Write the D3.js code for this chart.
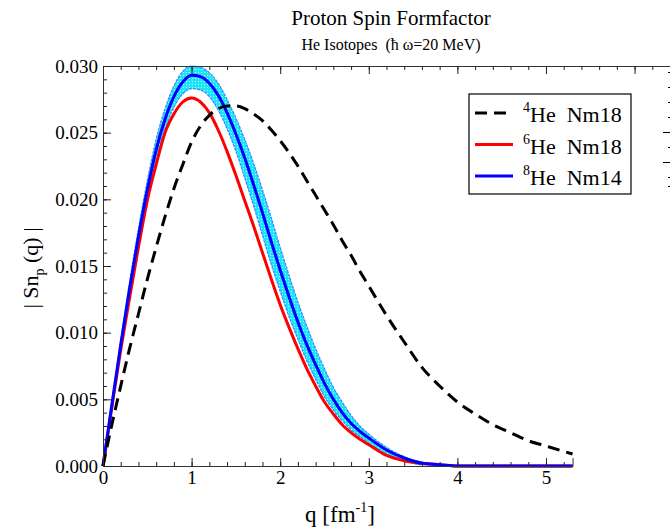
<!DOCTYPE html>
<html>
<head>
<meta charset="utf-8">
<script src="https://cdn.jsdelivr.net/npm/d3@7"></script>
<style>
body { margin: 0; background: #fff; }
svg { font-family: "Liberation Serif", "DejaVu Serif", serif; }
text { white-space: pre; }
</style>
</head>
<body>
<svg id="chart" width="670" height="529"></svg>
<script>
// q grid shared by all curves [fm^-1]
const qValues = [0, 0.1, 0.2, 0.3, 0.4, 0.5, 0.6, 0.7, 0.8, 0.9,
    1.0, 1.1, 1.2, 1.3, 1.4, 1.5, 1.6, 1.7, 1.8, 1.9,
    2.0, 2.1, 2.2, 2.3, 2.4, 2.5, 2.6, 2.7, 2.8, 2.9,
    3.0, 3.2, 3.4, 3.6, 3.8, 4.0, 4.2, 4.4, 4.6, 4.8, 5.0, 5.2, 5.3];

// 4He Nm18 (dashed black)
const he4 = [0, 0.0031, 0.0060, 0.0088, 0.0114, 0.0140, 0.0164, 0.0187, 0.0208, 0.0226,
    0.0243, 0.0255, 0.0263, 0.0268, 0.0270, 0.0270, 0.0268, 0.0264, 0.0259, 0.0252,
    0.0244, 0.0235, 0.0225, 0.0214, 0.0203, 0.0192, 0.0181, 0.0169, 0.0158, 0.0146,
    0.0135, 0.0113, 0.0093, 0.0074, 0.0060, 0.0048, 0.0039, 0.0031, 0.0025, 0.0019, 0.0015, 0.0011, 0.0009];

// 6He Nm18 (red)
const he6 = [0, 0.0044, 0.0087, 0.0126, 0.0164, 0.0199, 0.0226, 0.0250, 0.0264, 0.0273,
    0.0276, 0.0273, 0.0265, 0.0252, 0.0236, 0.0218, 0.0199, 0.0180, 0.0160, 0.0140,
    0.0121, 0.0104, 0.0088, 0.0073, 0.0060, 0.0048, 0.0039, 0.0031, 0.0025, 0.0020,
    0.0016, 0.0008, 0.0004, 0.0002, 0.0001, 0, 0, 0, 0, 0, 0, 0, 0];

// 8He Nm14 (blue) with its uncertainty band
const he8 = [0, 0.0046, 0.0091, 0.0133, 0.0172, 0.0207, 0.0237, 0.0260, 0.0277, 0.0288,
    0.0293, 0.0292, 0.0287, 0.0278, 0.0265, 0.0249, 0.0231, 0.0211, 0.0190, 0.0168,
    0.0147, 0.0127, 0.0108, 0.0091, 0.0076, 0.0062, 0.0050, 0.0040, 0.0032, 0.0026,
    0.0021, 0.0012, 0.0006, 0.0002, 0.0001, 0, 0, 0, 0, 0, 0, 0, 0];
const he8Hi = [0, 0.0047, 0.0094, 0.0138, 0.0178, 0.0214, 0.0245, 0.0268, 0.0285, 0.0296,
    0.0300, 0.0299, 0.0295, 0.0287, 0.0275, 0.0261, 0.0245, 0.0227, 0.0207, 0.0186,
    0.0164, 0.0143, 0.0123, 0.0105, 0.0088, 0.0073, 0.0059, 0.0048, 0.0038, 0.0030,
    0.0024, 0.0014, 0.0007, 0.0003, 0.0001, 0, 0, 0, 0, 0, 0, 0, 0];
const he8Lo = [0, 0.0045, 0.0088, 0.0128, 0.0166, 0.0200, 0.0229, 0.0252, 0.0269, 0.0279,
    0.0283, 0.0282, 0.0277, 0.0267, 0.0253, 0.0236, 0.0216, 0.0195, 0.0173, 0.0151,
    0.0131, 0.0112, 0.0095, 0.0079, 0.0065, 0.0052, 0.0042, 0.0034, 0.0027, 0.0022,
    0.0017, 0.0009, 0.0004, 0.0001, 0.0001, 0, 0, 0, 0, 0, 0, 0, 0];

const xTicks = [0, 1, 2, 3, 4, 5];
const yTicks = [0, 0.005, 0.010, 0.015, 0.020, 0.025, 0.030];

const legendItems = [
    { iso: "4", name: "He  Nm18", color: "#000", dash: "12,7" },
    { iso: "6", name: "He  Nm18", color: "#ff0000", dash: null },
    { iso: "8", name: "He  Nm14", color: "#0000ff", dash: null }
];

const svg = d3.select("#chart");

const x = d3.scaleLinear().domain([0, 6.4]).range([103, 670]);
const y = d3.scaleLinear().domain([0, 0.030]).range([466, 66]);
const xb = x.copy().domain([0, 5.3]).range([x(0), x(5.3)]);

// band texture
const defs = svg.append("defs");
const pat = defs.append("pattern")
    .attr("id", "dots")
    .attr("width", 3).attr("height", 3)
    .attr("patternUnits", "userSpaceOnUse");
pat.append("rect").attr("width", 3).attr("height", 3).attr("fill", "#19e6f8");
pat.append("rect").attr("width", 1).attr("height", 1).attr("fill", "#d0fcff");

// titles
svg.append("text")
    .attr("x", 391).attr("y", 25)
    .attr("text-anchor", "middle")
    .style("font-size", "21px")
    .text("Proton Spin Formfactor");

svg.append("text")
    .attr("x", 391).attr("y", 50)
    .attr("text-anchor", "middle")
    .style("font-size", "16px")
    .text("He Isotopes  (\u0127 \u03c9=20 MeV)");

// curves
const pts = qValues.map((q, i) => ({ q, a: he4[i], b: he6[i], c: he8[i], hi: he8Hi[i], lo: he8Lo[i] }));

const band = d3.area()
    .x(d => x(d.q))
    .y0(d => y(d.lo))
    .y1(d => y(d.hi))
    .curve(d3.curveMonotoneX);

svg.append("path")
    .datum(pts)
    .attr("d", band)
    .attr("fill", "url(#dots)")
    .attr("stroke", "#3d86ff")
    .attr("stroke-width", 1.2)
    .attr("stroke-dasharray", "3,1");

const line = key => d3.line()
    .x(d => x(d.q))
    .y(d => y(d[key]))
    .curve(d3.curveMonotoneX);

svg.append("path")
    .datum(pts)
    .attr("d", line("b"))
    .attr("fill", "none")
    .attr("stroke", "#ff0000")
    .attr("stroke-width", 3);

svg.append("path")
    .datum(pts)
    .attr("d", line("c"))
    .attr("fill", "none")
    .attr("stroke", "#0000ff")
    .attr("stroke-width", 3);

svg.append("path")
    .datum(pts)
    .attr("d", line("a"))
    .attr("fill", "none")
    .attr("stroke", "#000")
    .attr("stroke-width", 3)
    .attr("stroke-dasharray", "12,7");

// axes (ticks point inward)
svg.append("g")
    .attr("transform", `translate(0,${y(0)})`)
    .call(d3.axisBottom(xb).tickValues(xTicks).tickSize(-8).tickPadding(5).tickFormat(d3.format("d")));

svg.append("g")
    .attr("transform", `translate(0,${y(0)})`)
    .call(d3.axisBottom(xb).tickValues(d3.range(0, 5.3, 0.2)).tickSize(-4).tickFormat(""))
    .select(".domain").remove();

svg.append("g")
    .attr("transform", `translate(0,${y(0.030)})`)
    .call(d3.axisTop(x).tickValues([0, 1, 2, 3, 4, 5, 6]).tickSize(-8).tickFormat(""));

svg.append("g")
    .attr("transform", `translate(0,${y(0.030)})`)
    .call(d3.axisTop(x).tickValues(d3.range(0, 6.4, 0.2)).tickSize(-4).tickFormat(""))
    .select(".domain").remove();

svg.append("g")
    .attr("transform", `translate(${x(0)},0)`)
    .call(d3.axisLeft(y).tickValues(yTicks).tickSize(-8).tickPadding(5).tickFormat(d3.format(".3f")));

svg.append("g")
    .attr("transform", `translate(${x(0)},0)`)
    .call(d3.axisLeft(y).tickValues(d3.range(0, 0.0301, 0.001)).tickSize(-4).tickFormat(""))
    .select(".domain").remove();

svg.selectAll(".domain").attr("stroke", "#333");
svg.selectAll(".tick line").attr("stroke", "#222");
svg.selectAll(".tick text")
    .style("font-family", "'Liberation Serif', serif")
    .style("font-size", "19px")
    .attr("fill", "#000");

// neighbouring frame edge at the far right
const ySide = d3.scaleLinear().domain([0, 8]).range([192, 72]);
svg.append("g")
    .attr("transform", "translate(671,0)")
    .call(d3.axisLeft(ySide).tickValues([2, 4]).tickSize(8).tickFormat(""))
    .select(".domain").remove();
svg.append("g")
    .attr("transform", "translate(671,0)")
    .call(d3.axisLeft(ySide).tickValues([0.4, 1, 3, 5, 6, 7, 8]).tickSize(3).tickFormat(""))
    .select(".domain").remove();

// axis titles
const xl = svg.append("text")
    .attr("x", 340).attr("y", 522)
    .attr("text-anchor", "middle")
    .style("font-size", "23px");
xl.append("tspan").text("q [fm");
xl.append("tspan").attr("dy", -10).style("font-size", "14px").text("-1");
xl.append("tspan").attr("dy", 10).text("]");

const yl = svg.append("text")
    .attr("transform", "translate(38,268) rotate(-90)")
    .attr("text-anchor", "middle")
    .style("font-size", "22px");
yl.append("tspan").text("| Sn");
yl.append("tspan").attr("dy", 6).style("font-size", "14px").text("p");
yl.append("tspan").attr("dy", -6).text(" (q) |");

// legend
svg.append("rect")
    .attr("x", 469).attr("y", 94)
    .attr("width", 162).attr("height", 100)
    .attr("fill", "#fff")
    .attr("stroke", "#000")
    .attr("stroke-width", 1.2);

legendItems.forEach((item, i) => {
    const ly = 113 + i * 31.5;
    svg.append("line")
        .attr("x1", 475).attr("x2", 513)
        .attr("y1", ly).attr("y2", ly)
        .attr("stroke", item.color)
        .attr("stroke-width", 3)
        .attr("stroke-dasharray", item.dash);
    const t = svg.append("text")
        .attr("x", 523).attr("y", ly + 9)
        .style("font-size", "22px");
    t.append("tspan").attr("dy", -10).style("font-size", "14px").text(item.iso);
    t.append("tspan").attr("dy", 10).text(item.name);
});
</script>
</body>
</html>
